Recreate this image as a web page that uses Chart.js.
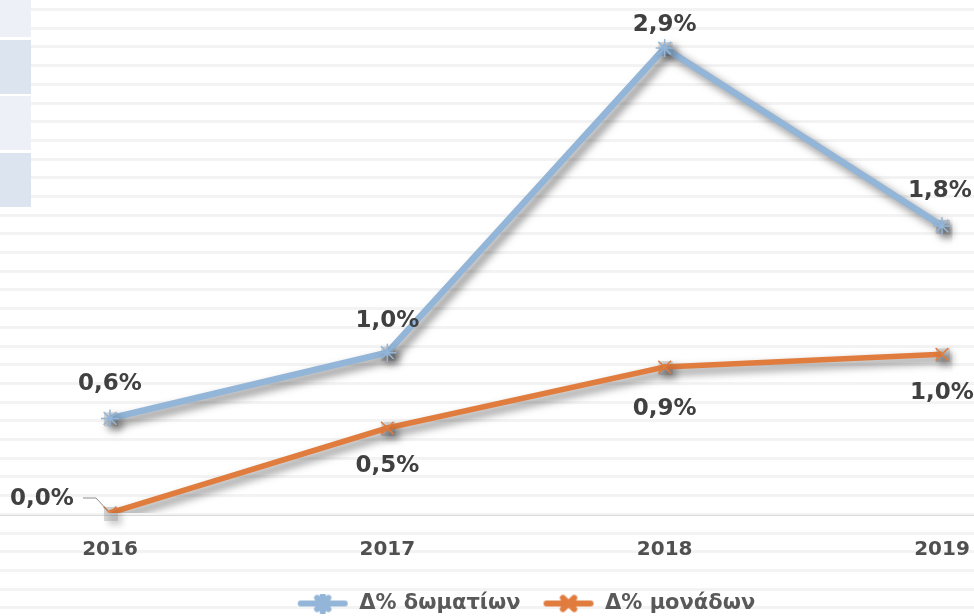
<!DOCTYPE html>
<html>
<head>
<meta charset="utf-8">
<script src="https://cdn.jsdelivr.net/npm/chart.js@4/dist/chart.umd.min.js"></script>
<style>
  html, body { margin: 0; padding: 0; background: #fff; }
  #wrap { width: 974px; height: 616px; }
</style>
</head>
<body>
<div id="wrap"><canvas id="chart" width="974" height="616"></canvas></div>
<script>
// data
const years = ["2016", "2017", "2018", "2019"];
const roomsChange = [0.59, 1.0, 2.9, 1.79];   // Δ% δωματίων
const unitsChange = [0.0, 0.53, 0.91, 0.99];  // Δ% μονάδων
const seriesNames = ["Δ% δωματίων", "Δ% μονάδων"];

const BLUE = "#92b5d8";
const ORANGE = "#e07c3e";
const FONT = "'DejaVu Sans', sans-serif";

const fmt = (v) => v.toFixed(1).replace(".", ",") + "%";

// little line+marker pictures for the legend
function legendSwatch(color, style) {
  const c = document.createElement("canvas");
  c.width = 52;
  c.height = 20;
  const g = c.getContext("2d");
  g.strokeStyle = color;
  g.lineCap = "round";
  g.lineWidth = 6;
  g.beginPath();
  g.moveTo(4, 10);
  g.lineTo(48, 10);
  g.stroke();
  Chart.helpers.drawPoint(g, { pointStyle: style, radius: 8, borderWidth: 1.5 }, 26, 10);
  return c;
}

// striped background and the pale boxes on the left
const backdrop = {
  id: "backdrop",
  beforeDraw(chart) {
    const { ctx, width, height } = chart;
    ctx.save();
    ctx.fillStyle = "#ffffff";
    ctx.fillRect(0, 0, width, height);
    ctx.fillStyle = "#f3f3f3";
    for (let y = 8; y < height; y += 18.7) {
      ctx.fillRect(0, Math.round(y), width, 3);
    }
    const boxes = [[0, 37, "#edf1f7"], [40, 94, "#dce5ef"], [96, 150, "#edf1f7"], [153, 207, "#dce5ef"]];
    boxes.forEach(([y0, y1, col]) => {
      ctx.fillStyle = col;
      ctx.fillRect(0, y0, 31, y1 - y0);
    });
    // zero line
    const y0 = chart.scales.y.getPixelForValue(0);
    ctx.strokeStyle = "#d9d9d9";
    ctx.lineWidth = 1;
    ctx.beginPath();
    ctx.moveTo(0, Math.round(y0) + 2.5);
    ctx.lineTo(width, Math.round(y0) + 2.5);
    ctx.stroke();
    ctx.restore();
  },
};

// soft drop shadow under lines and markers
const shadow = {
  id: "shadow",
  beforeDatasetsDraw(chart) {
    const ctx = chart.ctx;
    ctx.save();
    chart.data.datasets.forEach((ds, i) => {
      chart.getDatasetMeta(i).data.forEach((pt) => {
        ctx.fillStyle = "rgba(150,150,150,0.35)";
        ctx.shadowColor = "rgba(0,0,0,0.55)";
        ctx.shadowBlur = 6;
        ctx.shadowOffsetX = 4;
        ctx.shadowOffsetY = 4;
        ctx.fillRect(pt.x - 6, pt.y - 6, 14, 14);
      });
    });
    ctx.restore();
    ctx.save();
    ctx.shadowColor = "rgba(0,0,0,0.5)";
    ctx.shadowBlur = 8;
    ctx.shadowOffsetX = 5;
    ctx.shadowOffsetY = 5;
  },
  afterDatasetsDraw(chart) {
    chart.ctx.restore();
  },
};

// value labels next to points
const valueLabels = {
  id: "valueLabels",
  afterDatasetsDraw(chart, args, opts) {
    const ctx = chart.ctx;
    ctx.save();
    ctx.font = "bold 23px " + FONT;
    ctx.fillStyle = "#404040";
    ctx.textAlign = "center";
    ctx.textBaseline = "middle";
    chart.data.datasets.forEach((ds, i) => {
      const offs = opts.offsets[i];
      chart.getDatasetMeta(i).data.forEach((pt, j) => {
        const [dx, dy] = offs[j];
        ctx.fillText(fmt(ds.data[j]), pt.x + dx, pt.y + dy);
      });
    });
    // leader line for the label pushed to the left
    const p = chart.getDatasetMeta(1).data[0];
    ctx.strokeStyle = "#8c8c8c";
    ctx.lineWidth = 1;
    ctx.beginPath();
    ctx.moveTo(p.x - 27, p.y - 15);
    ctx.lineTo(p.x - 14, p.y - 15);
    ctx.lineTo(p.x - 2, p.y - 2);
    ctx.stroke();
    ctx.restore();
  },
};

new Chart(document.getElementById("chart"), {
  type: "line",
  data: {
    labels: years,
    datasets: [
      {
        label: seriesNames[0],
        data: roomsChange,
        borderColor: BLUE,
        borderWidth: 6.5,
        pointStyle: "star",
        pointRadius: 9,
        pointBorderWidth: 1.5,
        pointBorderColor: BLUE,
        pointBackgroundColor: "transparent",
        tension: 0,
      },
      {
        label: seriesNames[1],
        data: unitsChange,
        borderColor: ORANGE,
        borderWidth: 5.5,
        pointStyle: "crossRot",
        pointRadius: 9,
        pointBorderWidth: 1.5,
        pointBorderColor: ORANGE,
        pointBackgroundColor: "transparent",
        tension: 0,
      },
    ],
  },
  options: {
    responsive: false,
    animation: false,
    layout: { padding: { left: 110, right: 32, top: 32, bottom: -8 } },
    scales: {
      x: {
        offset: false,
        grid: { display: false },
        border: { display: false },
        ticks: {
          color: "#505050",
          font: { family: FONT, size: 20, weight: "bold" },
          padding: 17,
          maxRotation: 0,
        },
        afterFit: (s) => {
          s.height = 58;
          s.paddingLeft = 0;
          s.paddingRight = 0;
        },
      },
      y: { display: false, min: 0, max: 3 },
    },
    plugins: {
      tooltip: { enabled: false },
      legend: {
        position: "bottom",
        labels: {
          color: "#595959",
          font: { family: FONT, size: 21, weight: "bold" },
          usePointStyle: true,
          pointStyleWidth: 52,
          padding: 22,
          generateLabels: (chart) => {
            const items = Chart.defaults.plugins.legend.labels.generateLabels(chart);
            items[0].pointStyle = legendSwatch(BLUE, "star");
            items[1].pointStyle = legendSwatch(ORANGE, "crossRot");
            return items;
          },
        },
      },
      valueLabels: {
        offsets: [
          [[0, -34], [0, -32], [0, -23], [-2, -35]],
          [[-68, -14], [0, 38], [0, 42], [0, 39]],
        ],
      },
    },
  },
  plugins: [backdrop, shadow, valueLabels],
});
</script>
</body>
</html>
